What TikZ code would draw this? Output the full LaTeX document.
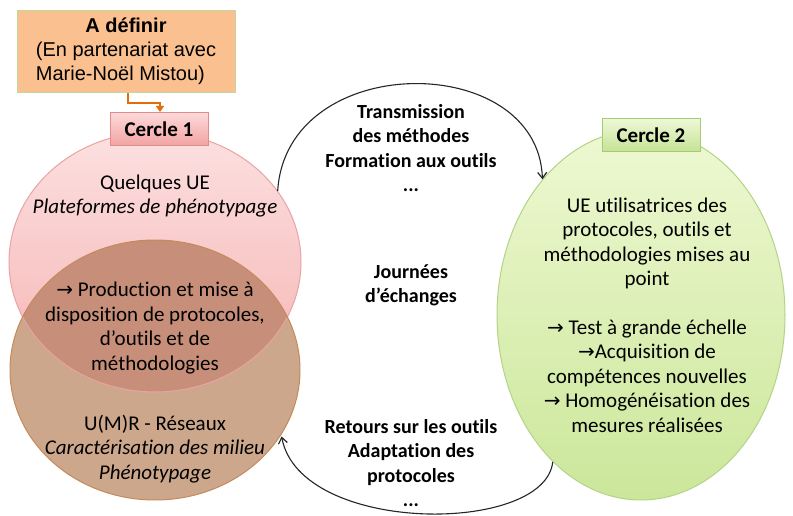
\documentclass[tikz,border=0pt]{standalone}
\usepackage{fontspec}
\setmainfont[Ligatures=NoCommon]{Carlito}
\newfontfamily\arialfont{Liberation Sans}
\newfontfamily\symfont{DejaVu Sans}
\usetikzlibrary{shapes.geometric,arrows.meta}
\newcommand{\myarrow}{{\symfont\fontsize{20}{20}\selectfont →}}
\definecolor{orfill}{HTML}{FAC090}
\definecolor{orline}{HTML}{C4D79B}
\definecolor{orarrow}{HTML}{E46C0A}
\definecolor{pinktop}{HTML}{FCE0E0}
\definecolor{pinkbot}{HTML}{F6B3B3}
\definecolor{pinkline}{HTML}{E9A3A3}
\definecolor{brownfill}{HTML}{CCA78B}
\definecolor{brownline}{HTML}{C58A5C}
\definecolor{overlap}{HTML}{C78F79}
\definecolor{greentop}{HTML}{EEF8D2}
\definecolor{greenbot}{HTML}{CBE79A}
\definecolor{greenline}{HTML}{B3D488}
\definecolor{c1top}{HTML}{FDDADA}
\definecolor{c1bot}{HTML}{F2A3A3}
\definecolor{c1line}{HTML}{E28C8C}
\definecolor{c2top}{HTML}{EEF8D8}
\definecolor{c2bot}{HTML}{C6E394}
\definecolor{c2line}{HTML}{A3CC74}
\tikzset{
  body/.style={font=\fontsize{21}{24.4}\selectfont, align=center, inner sep=0pt, text=black},
  bodyb/.style={body, font=\fontsize{20}{24.4}\selectfont\bfseries},
  labelbox/.style={rectangle, minimum width=98pt, minimum height=33pt, inner sep=0pt,
     font=\fontsize{21}{22}\selectfont\bfseries},
  arc/.style={draw=black!85, line width=1.1pt, -{Straight Barb[length=6pt,width=9pt,line width=1.2pt]}},
}
\begin{document}
\begin{tikzpicture}[x=1pt,y=-1pt]
\useasboundingbox (0,0) rectangle (793,516);
\fill[white] (0,0) rectangle (793,516);

% circles
\node[ellipse, minimum width=292pt, minimum height=260pt, inner sep=0pt,
      top color=pinktop, bottom color=pinkbot] (c1) at (155,262) {};
\node[ellipse, minimum width=290pt, minimum height=260pt, inner sep=0pt,
      fill=brownfill] (c3) at (155,370) {};
\begin{scope}
  \clip (155,262) ellipse [x radius=146, y radius=130];
  \fill[overlap] (155,370) ellipse [x radius=145, y radius=130];
\end{scope}
\draw[pinkline, line width=1pt] (155,262) ellipse [x radius=146, y radius=130];
\draw[brownline, line width=1pt] (155,370) ellipse [x radius=145, y radius=130];

\node[ellipse, minimum width=288pt, minimum height=370pt, inner sep=0pt,
      draw=greenline, line width=1pt, top color=greentop, bottom color=greenbot] (c2) at (641,315) {};

% orange box
\node[rectangle, minimum width=218pt, minimum height=82pt, inner sep=0pt,
      fill=orfill, draw=orline, line width=1pt, font=\arialfont\fontsize{20}{24}\selectfont] (def) at (126,52)
  {\begin{tabular}{@{}l@{}}\multicolumn{1}{@{}c@{}}{\textbf{A définir}}\\(En partenariat avec\\Marie-Noël Mistou)\end{tabular}};

% labels
\node[labelbox, draw=c1line, line width=1pt, top color=c1top, bottom color=c1bot] (k1) at (159,129) {Cercle 1};
\node[labelbox, draw=c2line, line width=1pt, top color=c2top, bottom color=c2bot] (k2) at (651,135) {Cercle 2};

\draw[orarrow, line width=1.5pt, -{Triangle[length=6pt,width=8pt]}]
  (def.south -| 128,0) |- (160,103) -- (k1.north -| 160,0);

% texts
\node[body] (t1) at (155,196) {Quelques UE\\\textit{Plateformes de phénotypage}};
\node[body] (t2) at (155,328) {\myarrow{} Production et mise à\\disposition de protocoles,\\d’outils et de\\méthodologies};
\node[body] (t3) at (155,449) {U(M)R - Réseaux\\\textit{Caractérisation des milieu}\\\textit{Phénotypage}};
\node[body] (t4) at (647,315) {UE utilisatrices des\\protocoles, outils et\\méthodologies mises au\\point\\[24.4pt]\myarrow{} Test à grande échelle\\\myarrow{}Acquisition de\\compétences nouvelles\\\myarrow{} Homogénéisation des\\mesures réalisées};

\node[bodyb] (a1) at (411,148) {Transmission\\des méthodes\\Formation aux outils\\...};
\node[bodyb] (a2) at (411,285) {Journées\\d’échanges};
\node[bodyb] (a3) at (411,463) {Retours sur les outils\\Adaptation des\\protocoles\\...};

% connectors
\draw[arc] (c1.30) .. controls (286,50) and (538,50) .. (c2.126);
\draw[arc] (c2.239) .. controls (545,535) and (300,535) .. ([shift={(6pt,6pt)}]c3.-31);
\end{tikzpicture}
\end{document}
